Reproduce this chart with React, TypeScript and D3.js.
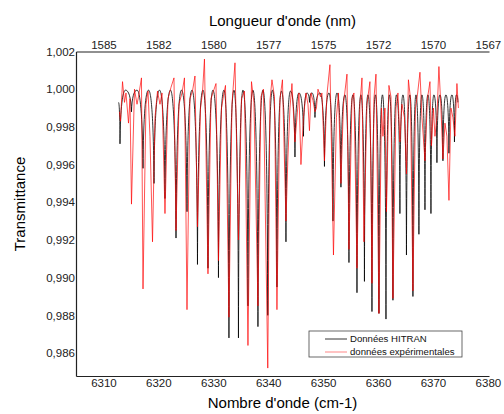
import React, { useEffect, useRef } from 'react';
import * as d3 from 'd3';

// HITRAN simulation: vertices of the trace (tops and line minima)
const hitranNu = [
  6312.74, 6313.01, 6314.01, 6315.10, 6316.11, 6317.20, 6318.20, 6319.20, 6320.20, 6321.20,
  6322.20, 6323.21, 6324.21, 6325.21, 6326.12, 6327.12, 6328.12, 6329.03, 6329.94, 6330.94,
  6331.94, 6332.85, 6333.76, 6334.58, 6335.40, 6336.31, 6337.22, 6338.13, 6339.04, 6339.92,
  6340.77, 6341.59, 6342.41, 6343.23, 6344.05, 6344.87, 6345.60, 6346.42, 6347.05, 6347.51,
  6347.96, 6348.51, 6349.42, 6350.24, 6351.06, 6351.79, 6352.52, 6353.24, 6353.97, 6354.70,
  6355.43, 6356.16, 6356.88, 6357.52, 6358.16, 6358.89, 6359.52, 6360.16, 6360.80, 6361.44,
  6362.07, 6362.71, 6363.35, 6363.98, 6364.53, 6365.17, 6365.80, 6366.35, 6366.90, 6367.44,
  6367.99, 6368.54, 6369.08, 6369.63, 6370.17, 6370.72, 6371.27, 6371.81, 6372.36, 6372.91,
  6373.45, 6373.91, 6374.27, 6374.54,
];
const hitranT = [
  0.9993, 0.9971, 0.99995, 0.9988, 0.99995, 0.9958, 0.99995, 0.9950, 0.99995, 0.9942,
  0.99995, 0.9921, 0.99995, 0.9935, 0.99995, 0.9907, 0.99995, 0.9905, 0.99995, 0.9900,
  0.99995, 0.9868, 0.99995, 0.9868, 0.99995, 0.9885, 0.99995, 0.9874, 0.99995, 0.9880,
  0.99995, 0.9895, 0.9999, 0.9919, 0.9999, 0.9964, 0.9998, 0.9975, 0.9998, 0.9993,
  0.9998, 0.9985, 0.9998, 0.9959, 0.9998, 0.9930, 0.9998, 0.9948, 0.9997, 0.9908,
  0.9997, 0.9892, 0.9997, 0.9898, 0.9997, 0.9882, 0.9997, 0.9881, 0.9997, 0.9878,
  0.9997, 0.9888, 0.9997, 0.9934, 0.9997, 0.9912, 0.9997, 0.9890, 0.9997, 0.9923,
  0.9997, 0.9936, 0.9997, 0.9934, 0.9997, 0.9961, 0.9997, 0.9962, 0.9997, 0.9966,
  0.9997, 0.9972, 0.9997, 0.9993,
];

// experimental spectrum
const expNu = [
  6312.92, 6313.10, 6313.47, 6313.83, 6314.10, 6314.56, 6314.83, 6315.10, 6315.65, 6316.11,
  6316.38, 6316.92, 6317.20, 6317.74, 6318.11, 6318.47, 6318.93, 6319.38, 6319.84, 6320.29,
  6320.66, 6321.20, 6321.75, 6322.30, 6322.84, 6323.21, 6323.75, 6324.30, 6324.75, 6325.21,
  6325.75, 6326.21, 6326.66, 6327.12, 6327.67, 6328.03, 6328.39, 6329.03, 6329.58, 6330.03,
  6330.49, 6330.94, 6331.49, 6331.94, 6332.22, 6332.85, 6333.40, 6333.95, 6334.58, 6335.13,
  6335.68, 6336.31, 6336.95, 6337.40, 6338.13, 6338.68, 6339.13, 6339.92, 6340.32, 6340.68,
  6341.14, 6341.59, 6342.14, 6342.59, 6343.23, 6343.59, 6343.96, 6344.32, 6344.87, 6345.23,
  6345.60, 6345.96, 6346.42, 6346.87, 6347.24, 6347.51, 6347.78, 6348.15, 6348.51, 6348.78,
  6349.06, 6349.51, 6349.78, 6350.24, 6350.69, 6351.24, 6351.88, 6352.42, 6352.79, 6353.24,
  6353.70, 6354.34, 6354.70, 6355.25, 6355.61, 6356.16, 6356.70, 6357.07, 6357.43, 6357.98,
  6358.52, 6358.89, 6359.25, 6359.62, 6360.16, 6360.62, 6360.89, 6361.25, 6361.53, 6361.98,
  6362.35, 6362.71, 6363.26, 6363.62, 6363.98, 6364.35, 6364.80, 6365.17, 6365.53, 6365.90,
  6366.35, 6366.81, 6367.17, 6367.63, 6367.99, 6368.54, 6368.99, 6369.45, 6369.72, 6370.08,
  6370.36, 6370.72, 6371.08, 6371.45, 6371.81, 6372.18, 6372.54, 6372.91, 6373.27, 6373.63,
  6374.00, 6374.36, 6374.63,
];
const expT = [
  0.9988, 0.9983, 1.0004, 0.9993, 0.9998, 0.9982, 0.9995, 0.9939, 1.0000, 0.9992,
  0.9996, 1.0006, 0.9894, 0.9992, 0.9999, 0.9975, 0.9919, 0.9985, 0.9999, 0.9992,
  0.9998, 0.9934, 0.9995, 1.0001, 1.0006, 0.9925, 0.9992, 0.9998, 1.0006, 0.9883,
  0.9995, 0.9999, 1.0007, 0.9927, 0.9990, 0.9998, 1.0016, 0.9902, 0.9995, 0.9999,
  1.0003, 0.9909, 0.9990, 0.9998, 1.0002, 0.9879, 0.9992, 1.0014, 0.9920, 0.9995,
  0.9999, 0.9864, 1.0004, 0.9993, 0.9885, 0.9996, 1.0000, 0.9852, 0.9994, 1.0005,
  0.9996, 0.9883, 0.9995, 1.0005, 0.9930, 0.9964, 0.9990, 1.0003, 0.9972, 0.9985,
  0.9998, 0.9960, 0.9985, 0.9998, 0.9992, 0.9978, 0.9998, 0.9994, 0.9988, 0.9990,
  1.0000, 0.9996, 0.9998, 0.9962, 0.9997, 1.0013, 0.9912, 0.9985, 0.9998, 0.9950,
  0.9992, 1.0008, 0.9915, 0.9995, 0.9998, 0.9905, 0.9992, 1.0006, 0.9919, 0.9992,
  1.0004, 0.9897, 0.9995, 1.0008, 0.9881, 0.9990, 0.9975, 0.9990, 0.9935, 1.0002,
  0.9996, 0.9889, 0.9990, 0.9998, 0.9972, 0.9992, 0.9985, 0.9955, 1.0005, 0.9995,
  0.9893, 0.9990, 0.9997, 1.0009, 0.9985, 0.9962, 0.9995, 1.0004, 0.9970, 0.9990,
  0.9975, 0.9985, 1.0012, 0.9990, 0.9963, 0.9982, 0.9975, 0.9941, 0.9990, 0.9985,
  0.9975, 1.0003, 0.9990,
];

const wavenumberTicks = [6310, 6320, 6330, 6340, 6350, 6360, 6370, 6380];
const transmittanceTicks = [0.986, 0.988, 0.99, 0.992, 0.994, 0.996, 0.998, 1.0, 1.002];
const seriesLabels = ['Données HITRAN', 'données expérimentales'];
const seriesColors = ['#000000', '#ff0000'];

const FONT = "'Liberation Sans', Arial, sans-serif";

export default function App() {
  const ref = useRef<SVGSVGElement>(null);

  useEffect(() => {
    const svg = d3.select(ref.current);
    svg.selectAll('*').remove();

    const left = 76, right = 489, top = 51.5, bottom = 376;

    const x = d3.scaleLinear().domain([6305, 6380.2]).range([left, right]);
    const y = d3.scaleLinear().domain([0.98478, 1.002]).range([bottom, top]);

    svg.append('defs').append('clipPath').attr('id', 'plot-clip')
      .append('rect')
      .attr('x', left).attr('y', top - 1)
      .attr('width', right - left).attr('height', bottom - top + 1);

    // HITRAN trace: rounded tops, sharp line minima
    const pts = hitranNu.map((n, i) => [x(n), y(hitranT[i])]);
    const isTop = hitranT.map((t, i) => {
      const a = i > 0 ? hitranT[i - 1] : -Infinity;
      const b = i < hitranT.length - 1 ? hitranT[i + 1] : -Infinity;
      return t >= a && t >= b;
    });
    const p = d3.path();
    p.moveTo(pts[0][0], pts[0][1]);
    for (let i = 0; i < pts.length - 1; i++) {
      const [x0, y0] = pts[i];
      const [x1, y1] = pts[i + 1];
      const dx = x1 - x0;
      const c1 = isTop[i] ? [x0 + 0.5 * dx, y0] : [x0 + 0.08 * dx, y0 + 0.7 * (y1 - y0)];
      const c2 = isTop[i + 1] ? [x1 - 0.5 * dx, y1] : [x1 - 0.08 * dx, y1 + 0.7 * (y0 - y1)];
      p.bezierCurveTo(c1[0], c1[1], c2[0], c2[1], x1, y1);
    }

    const plot = svg.append('g').attr('clip-path', 'url(#plot-clip)');
    plot.append('path')
      .attr('d', p.toString())
      .attr('fill', 'none')
      .attr('stroke', seriesColors[0])
      .attr('stroke-width', 0.8);

    const line = d3.line<number>()
      .x((d, i) => x(expNu[i]))
      .y((d) => y(d));

    plot.append('path')
      .datum(expT)
      .attr('d', line)
      .attr('fill', 'none')
      .attr('stroke', seriesColors[1])
      .attr('stroke-opacity', 0.85)
      .attr('stroke-width', 0.8);

    // axes
    const fmtY = (d: number) => d3.format('.3f')(d).replace('.', ',');
    const styleAxis = (g: any) => {
      g.select('.domain').attr('stroke', '#222').attr('stroke-width', 1.2);
      g.selectAll('text').attr('font-family', FONT).attr('font-size', 11.5).attr('fill', '#222');
    };

    svg.append('g')
      .attr('transform', `translate(0,${bottom})`)
      .call(d3.axisBottom(x).tickValues(wavenumberTicks).tickSize(0).tickPadding(3).tickFormat(d3.format('d')))
      .call(styleAxis);

    svg.append('g')
      .attr('transform', `translate(0,${top})`)
      .call(d3.axisTop(x).tickValues(wavenumberTicks).tickSize(0).tickPadding(3)
        .tickFormat((d: any) => String(Math.round(1e7 / d))))
      .call(styleAxis);

    svg.append('g')
      .attr('transform', `translate(${left},0)`)
      .call(d3.axisLeft(y).tickValues(transmittanceTicks).tickSize(0).tickPadding(1).tickFormat(fmtY))
      .call(styleAxis);

    // titles
    svg.append('text')
      .attr('x', (left + right) / 2).attr('y', 26)
      .attr('text-anchor', 'middle')
      .attr('font-family', FONT).attr('font-size', 15)
      .text("Longueur d'onde (nm)");

    svg.append('text')
      .attr('x', (left + right) / 2).attr('y', 408)
      .attr('text-anchor', 'middle')
      .attr('font-family', FONT).attr('font-size', 15)
      .text("Nombre d'onde (cm-1)");

    svg.append('text')
      .attr('transform', 'translate(25,204) rotate(-90)')
      .attr('text-anchor', 'middle')
      .attr('font-family', FONT).attr('font-size', 15)
      .text('Transmittance');

    // legend
    const legend = svg.append('g').attr('transform', 'translate(309,331)');
    legend.append('rect')
      .attr('width', 153).attr('height', 26)
      .attr('fill', '#fff').attr('stroke', '#444').attr('stroke-width', 0.8);

    const item = legend.selectAll('.legend-item')
      .data(seriesLabels)
      .enter()
      .append('g')
      .attr('class', 'legend-item')
      .attr('transform', (_, i) => `translate(0,${8 + i * 13})`);

    item.append('line')
      .attr('x1', 16).attr('x2', 38)
      .attr('stroke', (_, i) => seriesColors[i])
      .attr('stroke-opacity', (_, i) => (i === 1 ? 0.6 : 1))
      .attr('stroke-width', 0.8);

    item.append('text')
      .attr('x', 41).attr('dy', '0.35em')
      .attr('font-family', FONT).attr('font-size', 9.6).attr('fill', '#111')
      .text((d) => d);
  }, []);

  return (
    <svg
      ref={ref}
      width={504}
      height={414}
      style={{ position: 'absolute', left: 0, top: 0, background: '#fff' }}
    />
  );
}
